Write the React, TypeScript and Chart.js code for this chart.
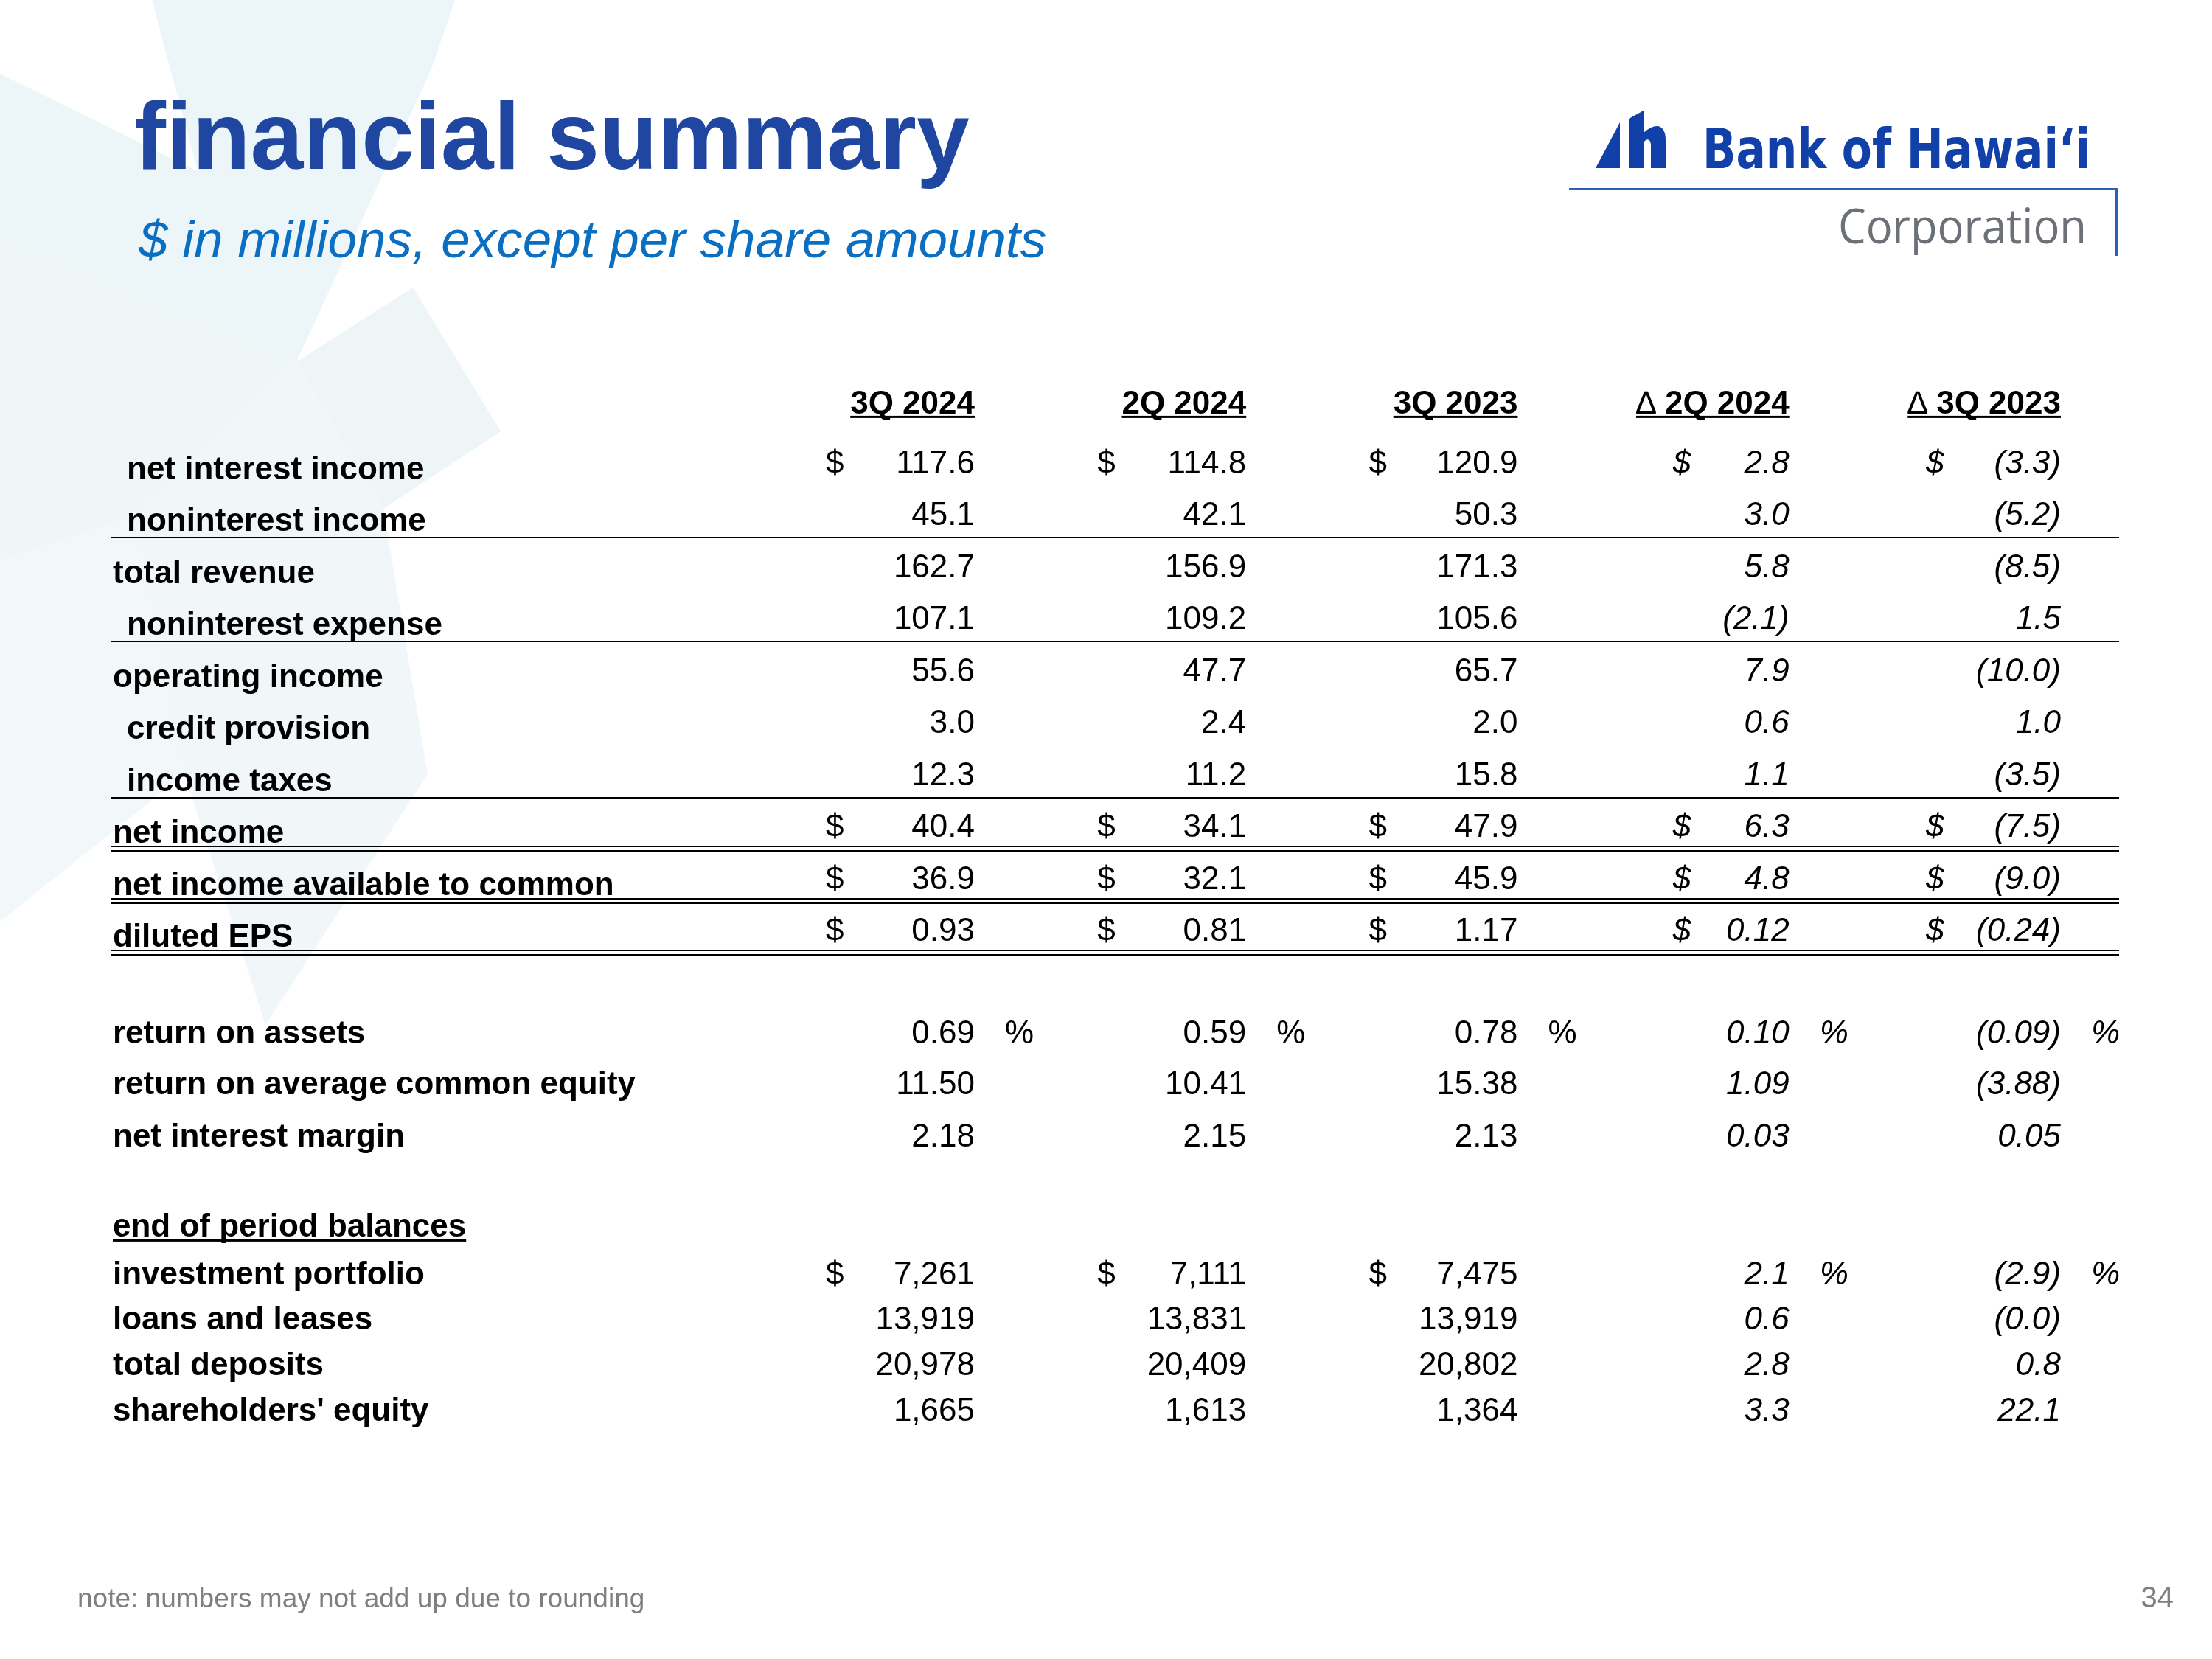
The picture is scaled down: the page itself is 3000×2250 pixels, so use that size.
import React, { useEffect, useRef } from 'react';
import { Chart, registerables } from 'chart.js';

Chart.register(...registerables);

// ---------- data ----------
const columnHeaders = ['3Q 2024', '2Q 2024', '3Q 2023', '2Q 2024', '3Q 2023'];
const deltaColumns = [false, false, false, true, true];

const rowLabels = [
  'net interest income',
  'noninterest income',
  'total revenue',
  'noninterest expense',
  'operating income',
  'credit provision',
  'income taxes',
  'net income',
  'net income available to common',
  'diluted EPS',
  'return on assets',
  'return on average common equity',
  'net interest margin',
  'investment portfolio',
  'loans and leases',
  'total deposits',
  "shareholders' equity",
];

const q3_2024 = [117.6, 45.1, 162.7, 107.1, 55.6, 3.0, 12.3, 40.4, 36.9, 0.93, 0.69, 11.5, 2.18, 7261, 13919, 20978, 1665];
const q2_2024 = [114.8, 42.1, 156.9, 109.2, 47.7, 2.4, 11.2, 34.1, 32.1, 0.81, 0.59, 10.41, 2.15, 7111, 13831, 20409, 1613];
const q3_2023 = [120.9, 50.3, 171.3, 105.6, 65.7, 2.0, 15.8, 47.9, 45.9, 1.17, 0.78, 15.38, 2.13, 7475, 13919, 20802, 1364];
const changeVs2Q2024 = [2.8, 3.0, 5.8, -2.1, 7.9, 0.6, 1.1, 6.3, 4.8, 0.12, 0.1, 1.09, 0.03, 2.1, 0.6, 2.8, 3.3];
const changeVs3Q2023 = [-3.3, -5.2, -8.5, 1.5, -10.0, 1.0, -3.5, -7.5, -9.0, -0.24, -0.09, -3.88, 0.05, -2.9, -0.0, 0.8, 22.1];

const columnSeries = [q3_2024, q2_2024, q3_2023, changeVs2Q2024, changeVs3Q2023];

const valueDecimals = [1, 1, 1, 1, 1, 1, 1, 1, 1, 2, 2, 2, 2, 0, 0, 0, 0];
const deltaDecimals = [1, 1, 1, 1, 1, 1, 1, 1, 1, 2, 2, 2, 2, 1, 1, 1, 1];
const dollarValueRows = [0, 7, 8, 9, 13];
const dollarDeltaRows = [0, 7, 8, 9];
const percentValueRows = [10];
const percentDeltaRows = [10, 13];
const indentedRows = [0, 1, 3, 5, 6];
const topSectionRows = [0, 1, 2, 3, 4, 5, 6, 7, 8, 9];
const singleRuleRows = [1, 3, 6];
const doubleRuleRows = [7, 8, 9];

const sectionHeading = 'end of period balances';

const titleText = 'financial summary';
const subtitleText = '$ in millions, except per share amounts';
const footnoteText = 'note: numbers may not add up due to rounding';
const pageNumber = '34';

// ---------- layout (row slots on the y scale, column index on the x scale) ----------
const rowSlots = [0, 1, 2, 3, 4, 5, 6, 7, 8, 9, 10.96, 11.94, 12.95, 15.6, 16.47, 17.35, 18.23];
const headerSlot = -1.15;
const sectionSlot = 14.68;

const FONT = '"Liberation Sans", Arial, Helvetica, sans-serif';

function fmt(v: number, d: number): string {
  const neg = v < 0 || Object.is(v, -0);
  const s = Math.abs(v).toLocaleString('en-US', { minimumFractionDigits: d, maximumFractionDigits: d });
  return neg ? `(${s})` : s;
}

const backgroundPlugin = {
  id: 'slideBackground',
  beforeDraw(chart: any) {
    const ctx: CanvasRenderingContext2D = chart.ctx;
    ctx.save();
    ctx.fillStyle = '#ffffff';
    ctx.fillRect(0, 0, chart.width, chart.height);
    const polys: [string, number[][]][] = [
      ['#ECF5F7', [[206, 0], [617, 0], [584, 96], [402, 491], [268, 232]]],
      ['#ECF5F7', [[0, 100], [268, 232], [402, 491], [0, 312]]],
      ['#EDF5F7', [[402, 491], [560, 390], [679, 585], [520, 690]]],
      ['#EEF6F8', [[0, 312], [402, 491], [182, 700], [0, 760]]],
      ['#F1F7F9', [[182, 700], [402, 491], [520, 690], [580, 1050], [360, 1390], [250, 1050]]],
      ['#F2F8F9', [[0, 760], [182, 700], [250, 1050], [0, 1250]]],
    ];
    for (const [col, p] of polys) {
      ctx.fillStyle = col;
      ctx.beginPath();
      ctx.moveTo(p[0][0], p[0][1]);
      for (let i = 1; i < p.length; i++) ctx.lineTo(p[i][0], p[i][1]);
      ctx.closePath();
      ctx.fill();
    }
    ctx.restore();
  },
};

function drawFitted(ctx: CanvasRenderingContext2D, text: string, x: number, y: number, targetW: number) {
  const w = ctx.measureText(text).width;
  const sx = targetW / w;
  ctx.save();
  ctx.translate(x, y);
  ctx.scale(sx, 1);
  ctx.textAlign = 'left';
  ctx.fillText(text, 0, 0);
  ctx.restore();
}

const decorPlugin = {
  id: 'slideDecor',
  afterDraw(chart: any) {
    const ctx: CanvasRenderingContext2D = chart.ctx;
    ctx.save();
    ctx.textBaseline = 'alphabetic';
    // title
    ctx.fillStyle = '#1F46A0';
    ctx.font = `bold 129px ${FONT}`;
    ctx.textAlign = 'left';
    ctx.fillText(titleText, 182, 229);
    // subtitle
    ctx.fillStyle = '#0A6FC2';
    ctx.font = `italic 71px ${FONT}`;
    ctx.fillText(subtitleText, 188, 349);

    // logo icon
    ctx.fillStyle = '#1040A8';
    ctx.beginPath();
    ctx.moveTo(2164, 228);
    ctx.lineTo(2197, 166);
    ctx.lineTo(2197, 228);
    ctx.closePath();
    ctx.fill();
    ctx.beginPath();
    ctx.moveTo(2209, 161);
    ctx.lineTo(2229, 150);
    ctx.lineTo(2229, 180);
    ctx.quadraticCurveTo(2240, 170, 2249, 171);
    ctx.quadraticCurveTo(2259, 174, 2259, 190);
    ctx.lineTo(2259, 228);
    ctx.lineTo(2239, 228);
    ctx.lineTo(2239, 196);
    ctx.quadraticCurveTo(2238, 187, 2232, 190);
    ctx.lineTo(2229, 193);
    ctx.lineTo(2229, 228);
    ctx.lineTo(2209, 228);
    ctx.closePath();
    ctx.fill();
    // logo words
    ctx.font = `bold 74px "DejaVu Sans Condensed", "DejaVu Sans", sans-serif`;
    drawFitted(ctx, 'Bank of Hawai\u2018i', 2309, 228, 526);
    ctx.fillStyle = '#6B7176';
    ctx.font = `66px "Open Sans", "Noto Sans", sans-serif`;
    drawFitted(ctx, 'Corporation', 2493, 330, 337);
    ctx.strokeStyle = '#2C60B6';
    ctx.lineWidth = 3;
    ctx.beginPath();
    ctx.moveTo(2128, 256.5);
    ctx.lineTo(2870.5, 256.5);
    ctx.lineTo(2870.5, 347);
    ctx.stroke();

    // footer
    ctx.fillStyle = '#7F7F7F';
    ctx.font = `37px ${FONT}`;
    ctx.textAlign = 'left';
    ctx.fillText(footnoteText, 105, 2180);
    ctx.font = `40px ${FONT}`;
    ctx.textAlign = 'right';
    ctx.fillText(pageNumber, 2948, 2180);
    ctx.restore();
  },
};

const tablePlugin = {
  id: 'tableCells',
  afterDatasetsDraw(chart: any) {
    const ctx: CanvasRenderingContext2D = chart.ctx;
    const area = chart.chartArea;
    const ys = chart.scales.y;
    const xs = chart.scales.x;
    ctx.save();
    ctx.fillStyle = '#000000';
    ctx.strokeStyle = '#000000';
    ctx.textBaseline = 'alphabetic';

    // rules
    ctx.lineWidth = 2;
    const hline = (y: number) => {
      ctx.beginPath();
      ctx.moveTo(area.left, y);
      ctx.lineTo(area.right, y);
      ctx.stroke();
    };
    singleRuleRows.forEach((r) => hline(Math.round(ys.getPixelForValue(rowSlots[r])) + 17));
    doubleRuleRows.forEach((r) => {
      const b = Math.round(ys.getPixelForValue(rowSlots[r]));
      hline(b + 13);
      hline(b + 19);
    });

    // column headers
    const hy = ys.getPixelForValue(headerSlot);
    columnHeaders.forEach((h, c) => {
      const x = xs.getPixelForValue(c);
      ctx.font = `bold 44px ${FONT}`;
      ctx.textAlign = 'right';
      ctx.fillText(h, x, hy);
      let left = x - ctx.measureText(h).width;
      if (deltaColumns[c]) {
        ctx.font = `44px ${FONT}`;
        const tw = ctx.measureText('\u2206').width;
        ctx.fillText('\u2206', left - 12, hy);
        left = left - 12 - tw;
      }
      ctx.fillRect(left, hy + 3, x - left, 3);
    });

    // row labels
    ctx.font = `bold 44px ${FONT}`;
    ctx.textAlign = 'left';
    rowLabels.forEach((lab, r) => {
      const y = ys.getPixelForValue(rowSlots[r]) + (topSectionRows.includes(r) ? 8 : 0);
      const x = area.left + (indentedRows.includes(r) ? 22 : 3);
      ctx.fillText(lab, x, y);
    });
    // section heading
    const sy = ys.getPixelForValue(sectionSlot);
    ctx.fillText(sectionHeading, area.left + 3, sy);
    const sw = ctx.measureText(sectionHeading).width;
    ctx.fillRect(area.left + 3, sy + 4, sw, 3);

    // values
    chart.data.datasets.forEach((ds: any, c: number) => {
      const meta = chart.getDatasetMeta(c);
      const isDelta = deltaColumns[c];
      const series = columnSeries[c];
      const font = `${isDelta ? 'italic ' : ''}44px ${FONT}`;
      meta.data.forEach((pt: any, r: number) => {
        const v = series[r];
        const d = isDelta ? deltaDecimals[r] : valueDecimals[r];
        ctx.font = font;
        ctx.textAlign = 'right';
        ctx.fillText(fmt(v, d), pt.x, pt.y);
        const hasDollar = isDelta ? dollarDeltaRows.includes(r) : dollarValueRows.includes(r);
        const hasPct = isDelta ? percentDeltaRows.includes(r) : percentValueRows.includes(r);
        ctx.textAlign = 'left';
        if (hasDollar) {
          const off = isDelta ? (c === 3 ? 158 : 183) : 202;
          ctx.fillText('$', pt.x - off, pt.y);
        }
        if (hasPct) {
          ctx.fillText('%', pt.x + 41, pt.y);
        }
      });
    });
    ctx.restore();
  },
};

export default function App() {
  const ref = useRef<HTMLCanvasElement | null>(null);
  useEffect(() => {
    document.body.style.margin = '0';
    const canvas = ref.current;
    if (!canvas) return;
    const datasets = columnSeries.map((series, c) => ({
      label: columnHeaders[c],
      data: series.map((_, r) => ({ x: c, y: rowSlots[r] })),
      pointRadius: 0,
      showLine: false,
    }));
    const chart = new Chart(canvas, {
      type: 'scatter',
      data: { datasets },
      options: {
        responsive: false,
        animation: false,
        devicePixelRatio: 1,
        layout: { padding: { left: 150, right: 126, top: 0, bottom: 0 } },
        scales: {
          x: { type: 'linear', min: -3.1826, max: 4.2146, display: false },
          y: { type: 'linear', min: -9.106, max: 22.809, reverse: true, display: false },
        },
        plugins: { legend: { display: false }, tooltip: { enabled: false }, title: { display: false } },
        events: [],
      },
      plugins: [backgroundPlugin, tablePlugin, decorPlugin],
    } as any);
    return () => chart.destroy();
  }, []);
  return <canvas ref={ref} width={3000} height={2250} style={{ display: 'block', width: 3000, height: 2250 }} />;
}
